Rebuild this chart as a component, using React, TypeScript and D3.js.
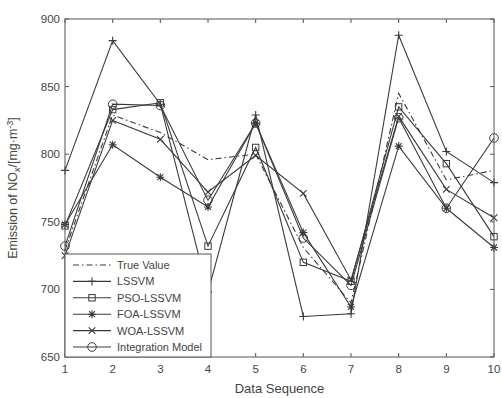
import React from "react";
import * as d3 from "d3";

const seq = [1, 2, 3, 4, 5, 6, 7, 8, 9, 10];
const trueValue = [729, 829, 816, 796, 800, 731, 690, 845, 781, 788];
const lssvm = [788, 884, 837, 698, 829, 680, 682, 888, 802, 779];
const psoLssvm = [747, 833, 838, 732, 805, 720, 706, 835, 793, 739];
const foaLssvm = [748, 807, 783, 761, 823, 742, 687, 806, 760, 731];
const woaLssvm = [725, 825, 811, 772, 799, 771, 707, 828, 774, 753];
const integration = [732, 837, 836, 766, 823, 738, 703, 827, 760, 812];
const yTicks = [650, 700, 750, 800, 850, 900];
const seriesNames = ["True Value", "LSSVM", "PSO-LSSVM", "FOA-LSSVM", "WOA-LSSVM", "Integration Model"];

const W = 502, H = 398;
const m = { left: 65, right: 8, top: 19, bottom: 41 };
const stroke = "#3a3a3a";

function Marker({ type, x, y }: { type: string; x: number; y: number }) {
  const s = 4;
  if (type === "plus")
    return <path d={`M${x - s},${y}H${x + s}M${x},${y - s}V${y + s}`} stroke={stroke} strokeWidth={1.1} fill="none" />;
  if (type === "square")
    return <rect x={x - 3.2} y={y - 3.2} width={6.4} height={6.4} stroke={stroke} strokeWidth={1} fill="none" />;
  if (type === "star") {
    const d = 3;
    return <path d={`M${x - s},${y}H${x + s}M${x},${y - s}V${y + s}M${x - d},${y - d}L${x + d},${y + d}M${x - d},${y + d}L${x + d},${y - d}`} stroke={stroke} strokeWidth={1.1} fill="none" />;
  }
  if (type === "cross") {
    const d = 3.3;
    return <path d={`M${x - d},${y - d}L${x + d},${y + d}M${x - d},${y + d}L${x + d},${y - d}`} stroke={stroke} strokeWidth={1.1} fill="none" />;
  }
  if (type === "circle")
    return <circle cx={x} cy={y} r={4.3} stroke={stroke} strokeWidth={1} fill="none" />;
  return null;
}

export default function App() {
  const x = d3.scaleLinear().domain([1, 10]).range([m.left, W - m.right - 0]);
  const y = d3.scaleLinear().domain([650, 900]).range([H - m.bottom - 0, m.top]);
  const x0 = m.left, x1 = W - m.right, y0 = H - m.bottom, y1 = m.top;
  const line = d3.line<number>().x((_, i) => x(seq[i])).y((d) => y(d));

  const series = [
    { name: seriesNames[0], data: trueValue, marker: "none", dash: "6,3,1.5,3" },
    { name: seriesNames[1], data: lssvm, marker: "plus", dash: "" },
    { name: seriesNames[2], data: psoLssvm, marker: "square", dash: "" },
    { name: seriesNames[3], data: foaLssvm, marker: "star", dash: "" },
    { name: seriesNames[4], data: woaLssvm, marker: "cross", dash: "" },
    { name: seriesNames[5], data: integration, marker: "circle", dash: "" },
  ];

  const font = "Arial, 'Liberation Sans', sans-serif";
  const lg = { x: 65, y: 254, w: 146, h: 103 };

  return (
    <svg width={W} height={H} style={{ position: "absolute", left: 0, top: 0, background: "#fff" }} fontFamily={font}>
      <rect x={0} y={0} width={W} height={H} fill="#fff" />
      {/* series */}
      {series.map((s) => (
        <g key={s.name}>
          <path d={line(s.data) || ""} fill="none" stroke={stroke} strokeWidth={1.1} strokeDasharray={s.dash || undefined} />
          {s.data.map((v, i) => (
            <Marker key={i} type={s.marker} x={x(seq[i])} y={y(v)} />
          ))}
        </g>
      ))}
      {/* axes box */}
      <rect x={x0} y={y1} width={x1 - x0} height={y0 - y1} fill="none" stroke="#555" strokeWidth={1} />
      {seq.map((t) => (
        <g key={"xt" + t}>
          <line x1={x(t)} x2={x(t)} y1={y0} y2={y0 - 4} stroke="#555" />
          <line x1={x(t)} x2={x(t)} y1={y1} y2={y1 + 4} stroke="#555" />
          <text x={x(t)} y={y0 + 16} fontSize={11.5} textAnchor="middle" fill="#444">{t}</text>
        </g>
      ))}
      {yTicks.map((t) => (
        <g key={"yt" + t}>
          <line x1={x0} x2={x0 + 4} y1={y(t)} y2={y(t)} stroke="#555" />
          <line x1={x1} x2={x1 - 4} y1={y(t)} y2={y(t)} stroke="#555" />
          <text x={x0 - 5} y={y(t) + 4} fontSize={11.5} textAnchor="end" fill="#444">{t}</text>
        </g>
      ))}
      {/* axis labels */}
      <text x={(x0 + x1) / 2} y={H - 5} fontSize={13} textAnchor="middle" fill="#444">Data Sequence</text>
      <text transform={`translate(17,${(y0 + y1) / 2}) rotate(-90)`} fontSize={12.5} textAnchor="middle" fill="#444">
        Emission of NO<tspan fontSize={9} dy={3}>x</tspan><tspan dy={-3}>/[mg·m</tspan><tspan fontSize={9} dy={-4}>-3</tspan><tspan dy={4}>]</tspan>
      </text>
      {/* legend */}
      <rect x={lg.x} y={lg.y} width={lg.w} height={lg.h} fill="#fff" stroke="#555" strokeWidth={1} />
      {series.map((s, i) => {
        const ly = lg.y + 11 + i * 16.4;
        return (
          <g key={"lg" + s.name}>
            <line x1={lg.x + 8} x2={lg.x + 46} y1={ly} y2={ly} stroke={stroke} strokeWidth={1.1} strokeDasharray={s.dash || undefined} />
            <Marker type={s.marker} x={lg.x + 27} y={ly} />
            <text x={lg.x + 52} y={ly + 4} fontSize={11} fill="#444">{s.name}</text>
          </g>
        );
      })}
    </svg>
  );
}
